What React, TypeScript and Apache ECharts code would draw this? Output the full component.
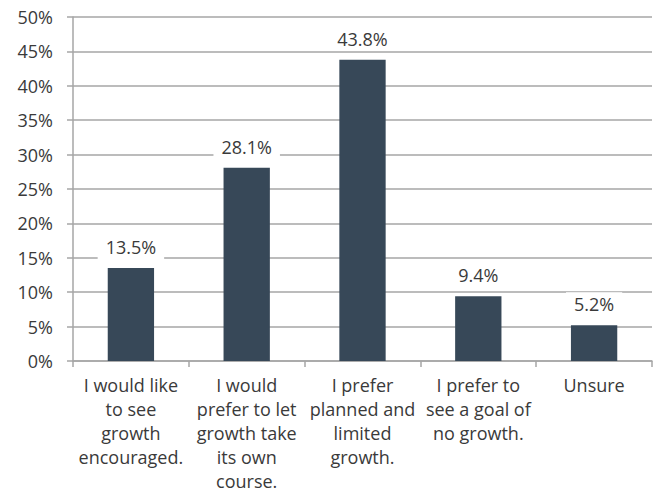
import React, { useEffect, useRef } from "react";
import * as echarts from "echarts";

const categories = [
  "I would like\nto see\ngrowth\nencouraged.",
  "I would\nprefer to let\ngrowth take\nits own\ncourse.",
  "I prefer\nplanned and\nlimited\ngrowth.",
  "I prefer to\nsee a goal of\nno growth.",
  "Unsure",
];
const values = [13.5, 28.1, 43.8, 9.4, 5.2];

const FONT = "'Open Sans', 'Noto Sans', sans-serif";
const FS = 18;

export default function App() {
  const ref = useRef<HTMLDivElement>(null);
  useEffect(() => {
    const chart = echarts.init(ref.current!, null, { renderer: "svg" });
    chart.setOption({
      animation: false,
      grid: { left: 73, right: 3, top: 17, bottom: 134, containLabel: false },
      xAxis: {
        type: "category",
        data: categories,
        axisLine: { show: true, lineStyle: { color: "#a6a6a6", width: 1.5 } },
        axisTick: { show: true, alignWithLabel: false, length: 6, lineStyle: { color: "#a6a6a6", width: 1.5 } },
        axisLabel: {
          interval: 0,
          margin: 12,
          color: "#3a3a3a",
          fontSize: FS,
          fontFamily: FONT,
          lineHeight: 24,
          align: "center",
        },
        splitLine: { show: false },
      },
      yAxis: {
        type: "value",
        min: 0,
        max: 50,
        interval: 5,
        axisLine: { show: true, lineStyle: { color: "#a6a6a6", width: 1.5 } },
        axisTick: { show: true, length: 6, lineStyle: { color: "#a6a6a6", width: 1.5 } },
        axisLabel: {
          formatter: "{value}%",
          margin: 20,
          color: "#3a3a3a",
          fontSize: FS,
          fontFamily: FONT,
        },
        splitLine: { show: true, lineStyle: { color: "#a6a6a6", width: 1.5 } },
      },
      series: [
        {
          type: "bar",
          data: values,
          barWidth: "40%",
          itemStyle: { color: "#374858" },
          label: {
            show: true,
            position: "top",
            distance: 9,
            formatter: (p: any) => p.value.toFixed(1) + "%",
            color: "#3a3a3a",
            fontSize: FS,
            fontFamily: FONT,
            backgroundColor: "#ffffff",
            padding: [3, 8],
          },
        },
      ],
    });
    return () => chart.dispose();
  }, []);
  return (
    <div
      ref={ref}
      style={{ position: "absolute", left: 0, top: 0, width: 655, height: 495, background: "#fff" }}
    />
  );
}
